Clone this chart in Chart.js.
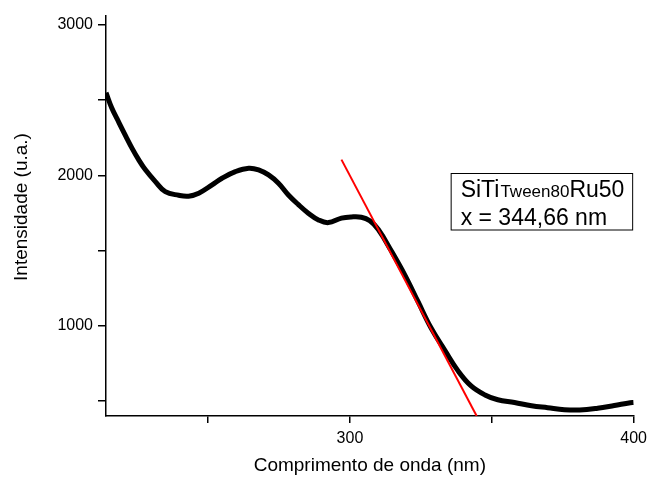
<!DOCTYPE html>
<html>
<head>
<meta charset="utf-8">
<script src="https://cdn.jsdelivr.net/npm/chart.js@4"></script>
<style>
  html, body { margin: 0; padding: 0; background: #fff; }
  #wrap { width: 653px; height: 482px; }
</style>
</head>
<body>
<div id="wrap"><canvas id="chart" width="653" height="482"></canvas></div>
<script>
// spectrum
const waveNm = [214, 216, 218.6, 221, 223.2, 225.5, 227.9, 231.4, 234.9, 239.6, 243.1, 246.7, 251.4, 254.9, 259.6, 264.3, 267.8, 271.3, 274.8, 278.3, 281.8, 285.3, 288.9, 292.4, 297, 300.5, 304, 307, 310, 314.5, 319.4, 324, 328.6, 333.5, 338.1, 342.7, 347.6, 352.1, 358, 364, 369.7, 375.6, 381, 387.3, 393.2, 398.8, 400];
const intensity = [2550, 2450, 2350, 2260, 2180, 2105, 2037, 1959, 1892, 1868, 1862, 1882, 1937, 1981, 2025, 2048, 2037, 2003, 1948, 1870, 1806, 1749, 1704, 1686, 1716, 1724, 1722, 1698, 1640, 1500, 1335, 1160, 985, 835, 700, 600, 540, 508, 490, 468, 455, 442, 440, 452, 470, 488, 490];

// tangent line (edge fit)
const tangentX = [297, 344.66];
const tangentY = [2105, 400];

const xTicks = [250, 300, 350, 400];
const yTicks = [500, 1000, 1500, 2000, 2500, 3000];

const xTitle = 'Comprimento de onda (nm)';
const yTitle = 'Intensidade (u.a.)';
const sampleName = 'SiTi';
const sampleSub = 'Tween80';
const sampleTail = 'Ru50';
const edgeText = 'x = 344,66 nm';

const FONT = "'Liberation Sans', Arial, Helvetica, sans-serif";

const toXY = (xs, ys) => xs.map((x, i) => ({x: x, y: ys[i]}));

// text box + y title
const extras = {
  id: 'extras',
  afterDraw(chart) {
    const ctx = chart.ctx;
    const ca = chart.chartArea;
    ctx.save();
    // y title, sits a bit above the axis middle like the original
    ctx.translate(22, 207);
    ctx.rotate(-Math.PI / 2);
    ctx.font = '19px ' + FONT;
    ctx.fillStyle = '#000';
    ctx.textAlign = 'center';
    ctx.textBaseline = 'middle';
    ctx.fillText(yTitle, 0, 0);
    ctx.restore();

    const x0 = ca.right - 182.5, y0 = 173.5, w = 181.5, h = 56.5;
    ctx.save();
    ctx.fillStyle = '#fff';
    ctx.fillRect(x0, y0, w, h);
    ctx.strokeStyle = '#000';
    ctx.lineWidth = 1;
    ctx.strokeRect(x0, y0, w, h);
    ctx.fillStyle = '#000';
    ctx.textBaseline = 'alphabetic';
    let tx = x0 + 9.5;
    ctx.font = '23px ' + FONT;
    ctx.fillText(sampleName, tx, y0 + 23.5);
    tx += ctx.measureText(sampleName).width + 1;
    ctx.font = '17px ' + FONT;
    ctx.fillText(sampleSub, tx, y0 + 23.5);
    tx += ctx.measureText(sampleSub).width;
    ctx.font = '23px ' + FONT;
    ctx.fillText(sampleTail, tx, y0 + 23.5);
    ctx.fillText(edgeText, x0 + 9.5, y0 + 51.5);
    ctx.restore();
  }
};

new Chart(document.getElementById('chart'), {
  type: 'line',
  data: {
    datasets: [
      {
        data: toXY(tangentX, tangentY),
        borderColor: '#ff0000',
        borderWidth: 2,
        pointRadius: 0,
        order: 0
      },
      {
        data: toXY(waveNm, intensity),
        borderColor: '#000',
        borderWidth: 5,
        pointRadius: 0,
        tension: 0.4,
        order: 1
      }
    ]
  },
  options: {
    responsive: false,
    animation: false,
    events: [],
    layout: { padding: { left: 0, right: 17, top: 16, bottom: 0 } },
    plugins: { legend: { display: false }, tooltip: { enabled: false } },
    scales: {
      x: {
        type: 'linear',
        min: 214,
        max: 400,
        afterBuildTicks: (s) => { s.ticks = xTicks.map(v => ({value: v})); },
        afterFit: (s) => { s.height = 66; },
        grid: { drawOnChartArea: false, drawTicks: true, tickLength: 7, color: '#000', lineWidth: 1.5 },
        border: { display: true, color: '#000', width: 1.5 },
        ticks: {
          autoSkip: false, maxRotation: 0, padding: 6, color: '#000',
          font: { family: FONT, size: 16 },
          callback: (v) => (v % 100 === 0 ? String(v) : '')
        },
        title: {
          display: true, text: xTitle, color: '#000',
          font: { family: FONT, size: 19 }, padding: { top: 0, bottom: 5 }
        }
      },
      y: {
        type: 'linear',
        min: 400,
        max: 3060,
        afterBuildTicks: (s) => { s.ticks = yTicks.map(v => ({value: v})); },
        afterFit: (s) => { s.width = 106; },
        grid: { drawOnChartArea: false, drawTicks: true, tickLength: 8, color: '#000', lineWidth: 1.5 },
        border: { display: true, color: '#000', width: 1.5 },
        ticks: {
          autoSkip: false, padding: 5, color: '#000',
          font: { family: FONT, size: 16 },
          callback: (v) => (v % 1000 === 0 ? String(v) : '')
        }
      }
    }
  },
  plugins: [extras]
});
</script>
</body>
</html>
